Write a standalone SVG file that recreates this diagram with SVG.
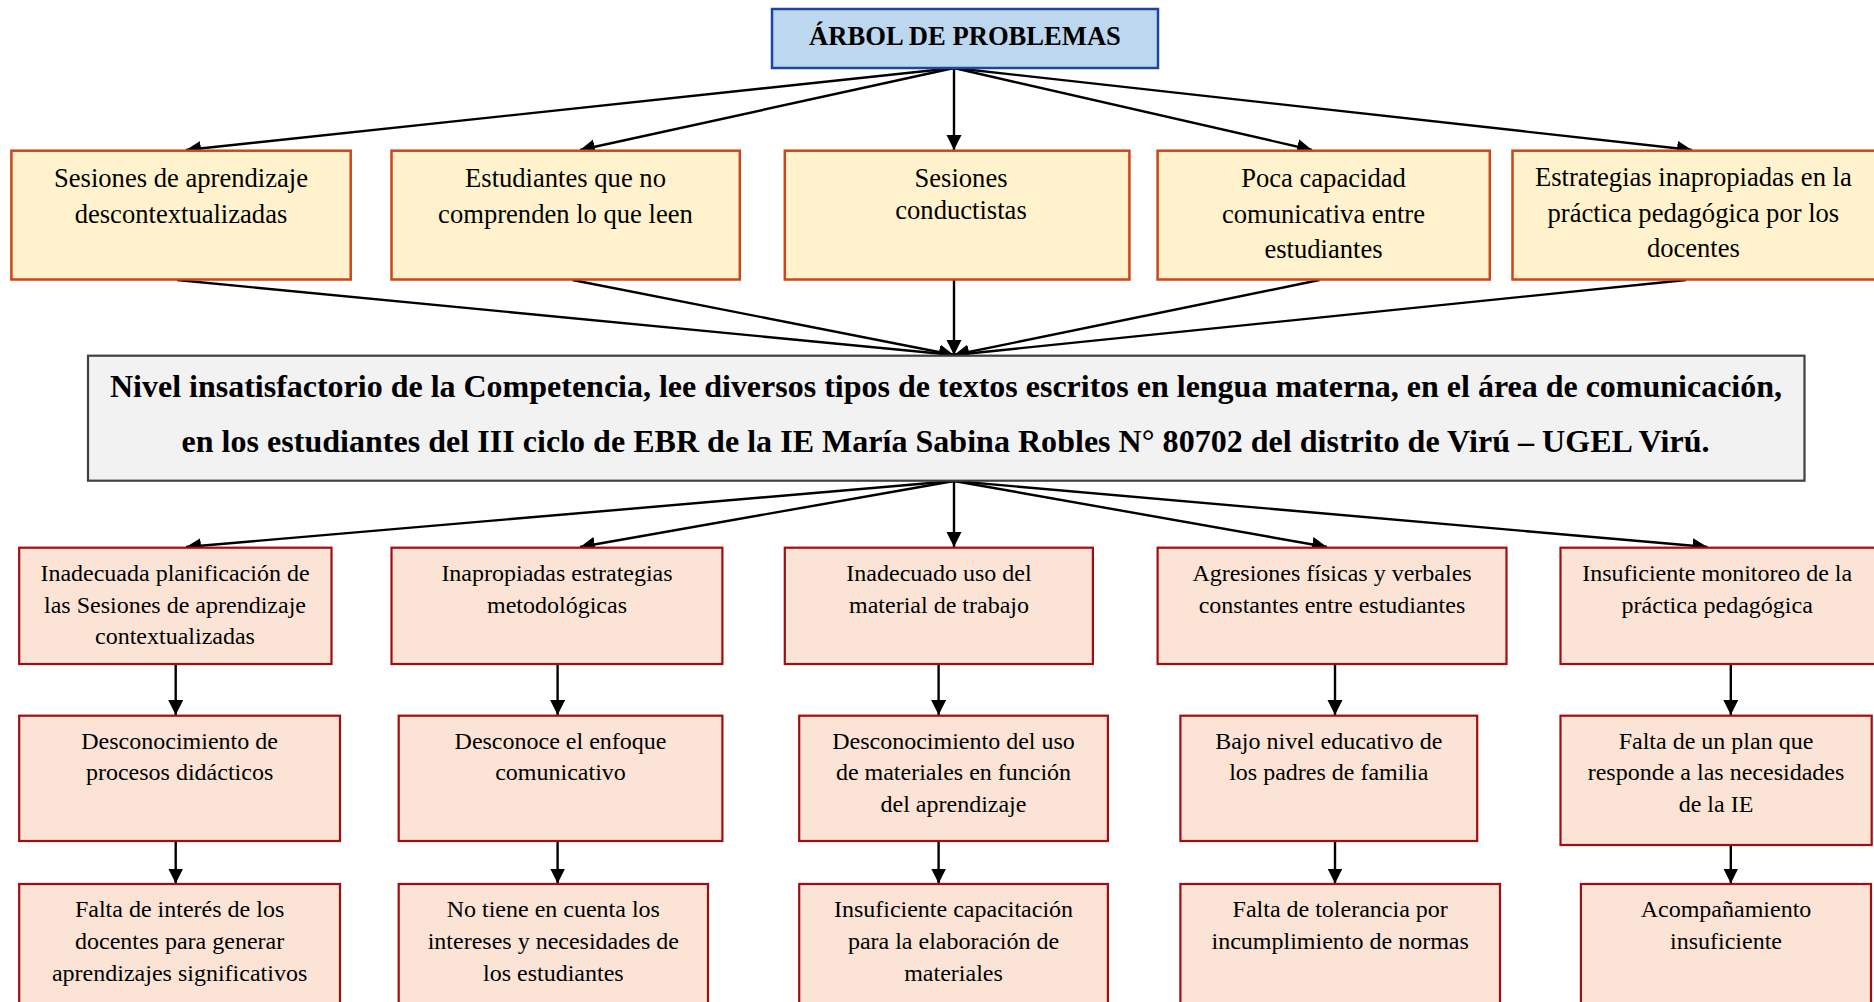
<svg xmlns="http://www.w3.org/2000/svg" width="1874" height="1002" viewBox="0 0 1874 1002">
<style>
text{font-family:"Liberation Serif","Times New Roman",serif;fill:#000;text-anchor:middle}
.title{font-size:26.6px;font-weight:bold}
.main{font-size:32px;font-weight:bold}
.t1{font-size:26.6px}
.t2{font-size:24px}
.bt{fill:#BDD7EE;stroke:#1F45A3;stroke-width:2.5}
.by{fill:#FFF2CC;stroke:#C9471A;stroke-width:2.5}
.bc{fill:#F2F2F2;stroke:#404040;stroke-width:2.2}
.br{fill:#FBE4D5;stroke:#A00E12;stroke-width:2.2}
.cn line{stroke:#000;stroke-width:2.4;marker-end:url(#ah)}
</style>
<defs>
<marker id="ah" markerUnits="userSpaceOnUse" markerWidth="16" markerHeight="16" refX="15" refY="7.5" orient="auto">
<path d="M0,0 L15,7.5 L0,15 Z" fill="#000"/>
</marker>
</defs>
<rect width="1874" height="1002" fill="#fff"/>

<g id="connectors" class="cn">
<line x1="954" y1="68" x2="186" y2="150"/>
<line x1="954" y1="68" x2="580" y2="150"/>
<line x1="954" y1="68" x2="954" y2="150"/>
<line x1="954" y1="68" x2="1312" y2="150"/>
<line x1="954" y1="68" x2="1692" y2="150"/>
<line x1="177" y1="280" x2="954" y2="355"/>
<line x1="572.5" y1="280" x2="954" y2="355"/>
<line x1="954" y1="280" x2="954" y2="355"/>
<line x1="1319.5" y1="280" x2="954" y2="355"/>
<line x1="1686" y1="280" x2="954" y2="355"/>
<line x1="954" y1="481" x2="186" y2="547"/>
<line x1="954" y1="481" x2="580" y2="547"/>
<line x1="954" y1="481" x2="954" y2="547"/>
<line x1="954" y1="481" x2="1327" y2="547"/>
<line x1="954" y1="481" x2="1707.5" y2="547"/>
<line x1="175.7" y1="664" x2="175.7" y2="715"/>
<line x1="557.6" y1="664" x2="557.6" y2="715"/>
<line x1="938.6" y1="664" x2="938.6" y2="715"/>
<line x1="1335" y1="664" x2="1335" y2="715"/>
<line x1="1730.8" y1="664" x2="1730.8" y2="715"/>
<line x1="175.7" y1="841" x2="175.7" y2="883.5"/>
<line x1="557.6" y1="841" x2="557.6" y2="883.5"/>
<line x1="938.6" y1="841" x2="938.6" y2="883.5"/>
<line x1="1335" y1="841" x2="1335" y2="883.5"/>
<line x1="1730.8" y1="845" x2="1730.8" y2="883.5"/>
</g>

<g id="titulo">
<rect class="bt" x="772" y="9" width="386" height="59"/>
<text class="title" x="965" y="44.5">ÁRBOL DE PROBLEMAS</text>
</g>

<g id="efecto1">
<rect class="by" x="11.4" y="150.7" width="339.3" height="128.8"/>
<text class="t1"><tspan x="181" y="187">Sesiones de aprendizaje</tspan><tspan x="181" y="222.5">descontextualizadas</tspan></text>
</g>
<g id="efecto2">
<rect class="by" x="391.5" y="150.7" width="348.3" height="128.8"/>
<text class="t1"><tspan x="565.5" y="187">Estudiantes que no</tspan><tspan x="565.5" y="222.5">comprenden lo que leen</tspan></text>
</g>
<g id="efecto3">
<rect class="by" x="784.8" y="150.7" width="344.6" height="128.8"/>
<text class="t1"><tspan x="961" y="187">Sesiones</tspan><tspan x="961" y="219">conductistas</tspan></text>
</g>
<g id="efecto4">
<rect class="by" x="1157.6" y="150.7" width="332.2" height="128.8"/>
<text class="t1"><tspan x="1323.5" y="187">Poca capacidad</tspan><tspan x="1323.5" y="222.5">comunicativa entre</tspan><tspan x="1323.5" y="258">estudiantes</tspan></text>
</g>
<g id="efecto5">
<rect class="by" x="1512.5" y="150.7" width="372" height="128.8"/>
<text class="t1"><tspan x="1693.4" y="186">Estrategias inapropiadas en la</tspan><tspan x="1693.4" y="221.7">práctica pedagógica por los</tspan><tspan x="1693.4" y="257">docentes</tspan></text>
</g>

<g id="problema">
<rect class="bc" x="88" y="355.7" width="1716.5" height="125"/>
<text class="main" x="946" y="396.7" textLength="1672" lengthAdjust="spacing">Nivel insatisfactorio de la Competencia, lee diversos tipos de textos escritos en lengua materna, en el área de comunicación,</text>
<text class="main" x="945.5" y="451.7" textLength="1528" lengthAdjust="spacing">en los estudiantes del III ciclo de EBR de la IE María Sabina Robles N° 80702 del distrito de Virú – UGEL Virú.</text>
</g>

<g id="causaA1">
<rect class="br" x="19.2" y="547.7" width="312.3" height="116.3"/>
<text class="t2"><tspan x="175" y="581">Inadecuada planificación de</tspan><tspan x="175" y="612.5">las Sesiones de aprendizaje</tspan><tspan x="175" y="644">contextualizadas</tspan></text>
</g>
<g id="causaA2">
<rect class="br" x="391.5" y="547.7" width="330.9" height="116.3"/>
<text class="t2"><tspan x="557" y="581">Inapropiadas estrategias</tspan><tspan x="557" y="612.5">metodológicas</tspan></text>
</g>
<g id="causaA3">
<rect class="br" x="784.8" y="547.7" width="308.1" height="116.3"/>
<text class="t2"><tspan x="939" y="581">Inadecuado uso del</tspan><tspan x="939" y="612.5">material de trabajo</tspan></text>
</g>
<g id="causaA4">
<rect class="br" x="1157.6" y="547.7" width="348.9" height="116.3"/>
<text class="t2"><tspan x="1332" y="581">Agresiones físicas y verbales</tspan><tspan x="1332" y="612.5">constantes entre estudiantes</tspan></text>
</g>
<g id="causaA5">
<rect class="br" x="1560.5" y="547.7" width="320" height="116.3"/>
<text class="t2"><tspan x="1717.2" y="581">Insuficiente monitoreo de la</tspan><tspan x="1717.2" y="612.5">práctica pedagógica</tspan></text>
</g>

<g id="causaB1">
<rect class="br" x="19.2" y="715.7" width="320.8" height="125.3"/>
<text class="t2"><tspan x="179.6" y="748.5">Desconocimiento de</tspan><tspan x="179.6" y="780">procesos didácticos</tspan></text>
</g>
<g id="causaB2">
<rect class="br" x="398.7" y="715.7" width="323.7" height="125.3"/>
<text class="t2"><tspan x="560.5" y="748.5">Desconoce el enfoque</tspan><tspan x="560.5" y="780">comunicativo</tspan></text>
</g>
<g id="causaB3">
<rect class="br" x="799.2" y="715.7" width="308.7" height="125.3"/>
<text class="t2"><tspan x="953.5" y="748.5">Desconocimiento del uso</tspan><tspan x="953.5" y="780">de materiales en función</tspan><tspan x="953.5" y="811.7">del aprendizaje</tspan></text>
</g>
<g id="causaB4">
<rect class="br" x="1180.4" y="715.7" width="296.8" height="125.3"/>
<text class="t2"><tspan x="1328.8" y="748.5">Bajo nivel educativo de</tspan><tspan x="1328.8" y="780">los padres de familia</tspan></text>
</g>
<g id="causaB5">
<rect class="br" x="1560.5" y="715.7" width="311.2" height="129.3"/>
<text class="t2"><tspan x="1716" y="748.5">Falta de un plan que</tspan><tspan x="1716" y="780">responde a las necesidades</tspan><tspan x="1716" y="811.7">de la IE</tspan></text>
</g>

<g id="causaC1">
<rect class="br" x="19.2" y="884" width="320.8" height="130"/>
<text class="t2"><tspan x="179.6" y="917">Falta de interés de los</tspan><tspan x="179.6" y="949">docentes para generar</tspan><tspan x="179.6" y="981">aprendizajes significativos</tspan></text>
</g>
<g id="causaC2">
<rect class="br" x="398.7" y="884" width="309.3" height="130"/>
<text class="t2"><tspan x="553.3" y="917">No tiene en cuenta los</tspan><tspan x="553.3" y="949">intereses y necesidades de</tspan><tspan x="553.3" y="981">los estudiantes</tspan></text>
</g>
<g id="causaC3">
<rect class="br" x="799.2" y="884" width="308.7" height="130"/>
<text class="t2"><tspan x="953.5" y="917">Insuficiente capacitación</tspan><tspan x="953.5" y="949">para la elaboración de</tspan><tspan x="953.5" y="981">materiales</tspan></text>
</g>
<g id="causaC4">
<rect class="br" x="1180.4" y="884" width="319.6" height="130"/>
<text class="t2"><tspan x="1340.2" y="917">Falta de tolerancia por</tspan><tspan x="1340.2" y="949">incumplimiento de normas</tspan></text>
</g>
<g id="causaC5">
<rect class="br" x="1580.9" y="884" width="290.1" height="130"/>
<text class="t2"><tspan x="1726" y="917">Acompañamiento</tspan><tspan x="1726" y="949">insuficiente</tspan></text>
</g>
</svg>
